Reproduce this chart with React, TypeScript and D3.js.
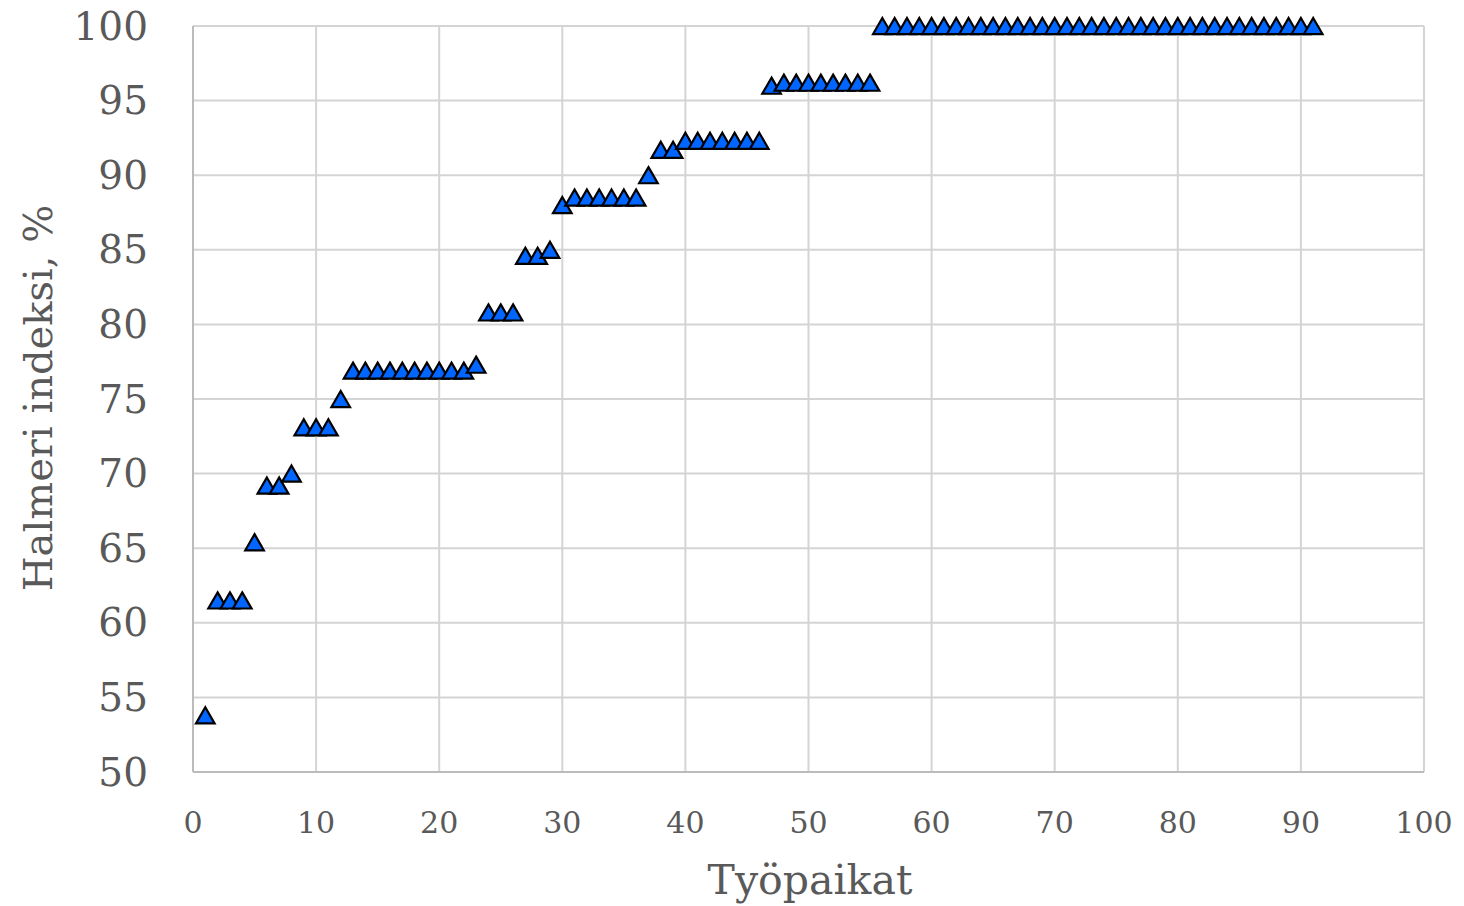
import React from "react";
import * as d3 from "d3";

const workplaces: number[] = Array.from({ length: 91 }, (_, i) => i + 1);
const indexValues: number[] = [
  53.8, 61.5, 61.5, 61.5, 65.4, 69.2, 69.2, 70.0, 73.1, 73.1,
  73.1, 75.0, 76.9, 76.9, 76.9, 76.9, 76.9, 76.9, 76.9, 76.9,
  76.9, 76.9, 77.3, 80.8, 80.8, 80.8, 84.6, 84.6, 85.0, 88.0,
  88.5, 88.5, 88.5, 88.5, 88.5, 88.5, 90.0, 91.7, 91.7, 92.3,
  92.3, 92.3, 92.3, 92.3, 92.3, 92.3, 96.0, 96.2, 96.2, 96.2,
  96.2, 96.2, 96.2, 96.2, 96.2, 100, 100, 100, 100, 100,
  100, 100, 100, 100, 100, 100, 100, 100, 100, 100,
  100, 100, 100, 100, 100, 100, 100, 100, 100, 100,
  100, 100, 100, 100, 100, 100, 100, 100, 100, 100,
  100,
];
const xTicks: number[] = [0, 10, 20, 30, 40, 50, 60, 70, 80, 90, 100];
const yTicks: number[] = [50, 55, 60, 65, 70, 75, 80, 85, 90, 95, 100];
const xTitle = "Työpaikat";
const yTitle = "Halmeri indeksi, %";

export default function App() {
  const W = 1464, H = 906;
  const left = 193, right = 1424, top = 26, bottom = 772;
  const x = d3.scaleLinear().domain([0, 100]).range([left, right]);
  const y = d3.scaleLinear().domain([50, 100]).range([bottom, top]);
  const font = "'DejaVu Serif', serif";
  const textColor = "#595959";
  const gridColor = "#D4D4D4";
  const symSize = 150;
  const tri = d3.symbol().type(d3.symbolTriangle).size(symSize)();
  const halfH = Math.sqrt(symSize / (Math.sqrt(3) * 3));
  const triOffset = halfH / 2; // centre the bounding box on the value

  return (
    <svg width={W} height={H} style={{ position: "absolute", left: 0, top: 0, background: "#fff" }}>
      <rect x={0} y={0} width={W} height={H} fill="#fff" />
      {xTicks.map((t) => (
        <line key={"gx" + t} x1={x(t)} x2={x(t)} y1={top} y2={bottom} stroke={gridColor} strokeWidth={2} />
      ))}
      {yTicks.map((t) => (
        <line key={"gy" + t} x1={left} x2={right} y1={y(t)} y2={y(t)} stroke={gridColor} strokeWidth={2} />
      ))}
      <line x1={left} x2={left} y1={top} y2={bottom} stroke="#BBBBBB" strokeWidth={2} />
      <line x1={left} x2={right} y1={bottom} y2={bottom} stroke="#BBBBBB" strokeWidth={2} />
      {yTicks.map((t) => (
        <text key={"ty" + t} x={148} y={y(t)} textAnchor="end" dominantBaseline="central"
          fontFamily={font} fontSize={39} fill={textColor}>{t}</text>
      ))}
      {xTicks.map((t) => (
        <text key={"tx" + t} x={x(t)} y={822} textAnchor="middle" dominantBaseline="central"
          fontFamily={font} fontSize={30} fill={textColor}>{t}</text>
      ))}
      <text x={810} y={880} textAnchor="middle" dominantBaseline="central"
        fontFamily={font} fontSize={41} fill={textColor}>{xTitle}</text>
      <text transform={`translate(38,398) rotate(-90)`} textAnchor="middle" dominantBaseline="central"
        fontFamily={font} fontSize={40} fill={textColor}>{yTitle}</text>
      {workplaces.map((w, i) => (
        <path key={"p" + w} d={tri as string}
          transform={`translate(${x(w)},${y(indexValues[i]) + triOffset})`}
          fill="#0066FF" stroke="#000" strokeWidth={2.2} strokeLinejoin="miter" />
      ))}
    </svg>
  );
}
